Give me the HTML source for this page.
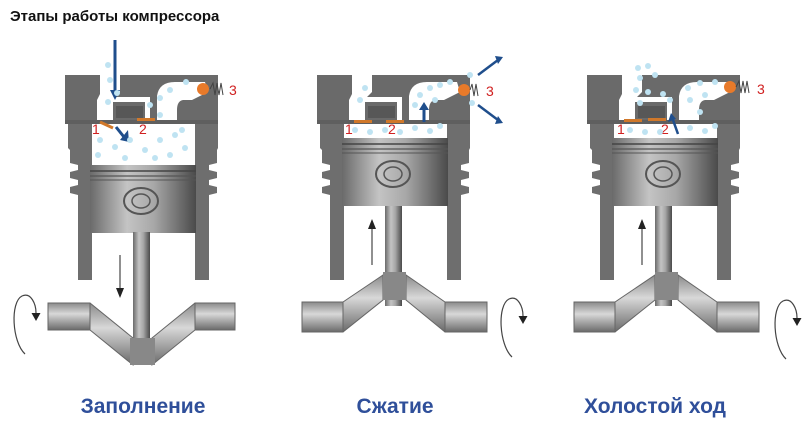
<!DOCTYPE html>
<html><head><meta charset="utf-8"><style>
body{margin:0;background:#fff;}
svg{display:block}
.t{font-family:"Liberation Sans",sans-serif;}
</style></head><body>
<svg width="808" height="423" viewBox="0 0 808 423" xmlns="http://www.w3.org/2000/svg">
<defs>
<linearGradient id="pg" x1="0" x2="1" y1="0" y2="0">
<stop offset="0" stop-color="#6a6a6a"/><stop offset="0.35" stop-color="#c4c4c4"/><stop offset="0.6" stop-color="#a8a8a8"/><stop offset="1" stop-color="#4a4a4a"/></linearGradient>
<linearGradient id="cg" x1="0" x2="0" y1="0" y2="1">
<stop offset="0" stop-color="#8a8a8a"/><stop offset="0.4" stop-color="#d8d8d8"/><stop offset="1" stop-color="#6a6a6a"/></linearGradient>
<g id="cyl">
<path d="M68 123 H92 V280 H78 V195 L70 193 V187 L78 185 V180 L70 178 V172 L78 170 V165 L70 163 V150 L68 148Z" fill="#6e6e6e"/>
<path d="M218 123 H195 V280 H209 V195 L217 193 V187 L209 185 V180 L217 178 V172 L209 170 V165 L217 163 V150 L218 148Z" fill="#6e6e6e"/>
<rect x="65" y="75" width="153" height="48" fill="#6a6a6a"/>
<path d="M100 75 H120 V92 L113 99 V123 H97 V100 L100 94Z" fill="#fff"/>
<path d="M113 97 H150 V123 H145 V102 H113Z" fill="#fff"/>
<rect x="116" y="106" width="27" height="12" fill="#575757"/>
<path d="M157 123 V96 Q159 82 175 82 H205 L208 92 L192 100 H183 Q177 101 177 110 V123Z" fill="#fff"/>
<rect x="65" y="120" width="153" height="4" fill="#5f5f5f"/>
</g>
<g id="pis">
<rect x="90" y="0" width="106" height="68" fill="url(#pg)"/>
<line x1="90" y1="6" x2="196" y2="6" stroke="#444" stroke-width="1.5"/>
<line x1="90" y1="11" x2="196" y2="11" stroke="#555" stroke-width="1.2"/>
<line x1="90" y1="15" x2="196" y2="15" stroke="#555" stroke-width="1"/>
<ellipse cx="141" cy="36" rx="17" ry="13" fill="none" stroke="#555" stroke-width="2"/>
<ellipse cx="141" cy="36" rx="9" ry="7" fill="none" stroke="#555" stroke-width="1.5"/>
<rect x="133" y="68" width="17" height="100" fill="url(#pg)"/>
</g>
<g id="rot">
<path d="M25 354 C12 342 10 302 22 296 C31 292 36 304 36 313" fill="none" stroke="#444" stroke-width="1.2"/>
<path d="M31.5 313 L40.5 313 L36 321Z" fill="#222"/>
</g>
<g id="crankUp">
<path d="M302 302 H343 L383 275 V300 L343 332 H302Z" fill="url(#cg)" stroke="#666"/>
<path d="M487 302 H445 L406 275 V300 L445 332 H487Z" fill="url(#cg)" stroke="#666"/>
<rect x="302" y="302" width="41" height="30" fill="url(#cg)" stroke="#666"/>
<rect x="445" y="302" width="42" height="30" fill="url(#cg)" stroke="#666"/>
<rect x="383" y="272" width="23" height="28" fill="#888"/>
</g>
</defs>

<text x="10" y="21" class="t" font-size="15" font-weight="bold" fill="#111">Этапы работы компрессора</text>

<!-- Cylinder 1 -->
<use href="#cyl"/>
<rect x="92" y="124" width="103" height="41" fill="#fff"/>
<g transform="translate(0,165)"><use href="#pis"/></g>
<path d="M48 303 H90 L133 338 V365 L90 330 H48Z" fill="url(#cg)" stroke="#666"/>
<path d="M235 303 H195 L152 338 V365 L195 330 H235Z" fill="url(#cg)" stroke="#666"/>
<rect x="48" y="303" width="42" height="27" fill="url(#cg)" stroke="#666"/>
<rect x="195" y="303" width="40" height="27" fill="url(#cg)" stroke="#666"/>
<rect x="133" y="232" width="17" height="106" fill="url(#pg)"/>
<rect x="130" y="338" width="25" height="27" fill="#888"/>
<line x1="120" y1="255" x2="120" y2="290" stroke="#222"/><path d="M116 288 L124 288 L120 298Z" fill="#222"/>
<use href="#rot"/>
<line x1="115" y1="40" x2="115" y2="95" stroke="#1f4e8c" stroke-width="3"/><path d="M110 90 L120 90 L115 100Z" fill="#1f4e8c"/>
<line x1="116" y1="127" x2="124" y2="137" stroke="#1f4e8c" stroke-width="3"/><path d="M120 140 L128 130 L129 142Z" fill="#1f4e8c"/>
<line x1="100" y1="122" x2="113" y2="128" stroke="#d0782a" stroke-width="3"/>
<rect x="137" y="118" width="18" height="3" fill="#d0782a"/>
<circle cx="203" cy="89" r="6" fill="#e87a2a"/>
<path d="M210 89 l3 -6 l2 12 l2 -12 l2 12 l2 -12 l2 12" fill="none" stroke="#444"/>
<text x="229" y="95" class="t" font-size="14" fill="#d02020">3</text>
<text x="92" y="134" class="t" font-size="14" fill="#d02020">1</text>
<text x="139" y="134" class="t" font-size="14" fill="#d02020">2</text>
<g fill="#bfe3f2">
<circle cx="108" cy="65" r="3"/><circle cx="110" cy="80" r="3"/><circle cx="117" cy="93" r="3"/><circle cx="108" cy="102" r="3"/><circle cx="170" cy="90" r="3"/><circle cx="160" cy="98" r="3"/><circle cx="186" cy="82" r="3"/><circle cx="150" cy="105" r="3"/><circle cx="160" cy="115" r="3"/>
<circle cx="100" cy="140" r="3"/><circle cx="115" cy="147" r="3"/><circle cx="130" cy="140" r="3"/><circle cx="145" cy="150" r="3"/><circle cx="160" cy="140" r="3"/><circle cx="175" cy="135" r="3"/><circle cx="185" cy="148" r="3"/><circle cx="170" cy="155" r="3"/><circle cx="98" cy="155" r="3"/><circle cx="125" cy="158" r="3"/><circle cx="155" cy="158" r="3"/><circle cx="182" cy="130" r="3"/>
</g>

<!-- Cylinder 2 -->
<g transform="translate(252,0)">
<use href="#cyl"/>
<rect x="92" y="124" width="103" height="14" fill="#fff"/>
<g transform="translate(0,138)"><use href="#pis"/></g>
</g>
<use href="#crankUp"/>
<line x1="372" y1="225" x2="372" y2="265" stroke="#222"/><path d="M368 229 L376 229 L372 219Z" fill="#222"/>
<g transform="translate(487,3)"><use href="#rot"/></g>
<rect x="354" y="120" width="18" height="3" fill="#d0782a"/><rect x="386" y="120" width="18" height="3" fill="#d0782a"/>
<line x1="424" y1="122" x2="424" y2="108" stroke="#1f4e8c" stroke-width="3"/><path d="M419 110 L429 110 L424 102Z" fill="#1f4e8c"/>
<line x1="478" y1="75" x2="498" y2="60" stroke="#1f4e8c" stroke-width="2.5"/><path d="M495 56 L503 57 L498 64Z" fill="#1f4e8c"/>
<line x1="478" y1="105" x2="498" y2="120" stroke="#1f4e8c" stroke-width="2.5"/><path d="M495 124 L503 123 L498 116Z" fill="#1f4e8c"/>
<circle cx="464" cy="90" r="6" fill="#e87a2a"/>
<path d="M470 90 l2 -6 l2 12 l2 -12 l2 12" fill="none" stroke="#444"/>
<text x="486" y="96" class="t" font-size="14" fill="#d02020">3</text>
<text x="345" y="134" class="t" font-size="14" fill="#d02020">1</text>
<text x="388" y="134" class="t" font-size="14" fill="#d02020">2</text>
<g fill="#bfe3f2">
<circle cx="365" cy="88" r="3"/><circle cx="360" cy="100" r="3"/><circle cx="420" cy="95" r="3"/><circle cx="430" cy="88" r="3"/><circle cx="440" cy="85" r="3"/><circle cx="450" cy="82" r="3"/><circle cx="415" cy="105" r="3"/><circle cx="435" cy="100" r="3"/><circle cx="470" cy="75" r="3"/><circle cx="472" cy="103" r="3"/>
<circle cx="355" cy="130" r="3"/><circle cx="370" cy="132" r="3"/><circle cx="385" cy="130" r="3"/><circle cx="400" cy="132" r="3"/><circle cx="415" cy="128" r="3"/><circle cx="430" cy="131" r="3"/><circle cx="440" cy="126" r="3"/>
</g>

<!-- Cylinder 3 -->
<g transform="translate(522,0)">
<use href="#cyl"/>
<rect x="92" y="124" width="103" height="14" fill="#fff"/>
<g transform="translate(0,138)"><use href="#pis"/></g>
</g>
<g transform="translate(272,0)"><use href="#crankUp"/></g>
<line x1="642" y1="225" x2="642" y2="265" stroke="#222"/><path d="M638 229 L646 229 L642 219Z" fill="#222"/>
<g transform="translate(761,5)"><use href="#rot"/></g>
<rect x="624" y="119" width="18" height="3" fill="#d0782a"/><rect x="648" y="118" width="18" height="3" fill="#d0782a"/>
<line x1="678" y1="134" x2="673" y2="120" stroke="#1f4e8c" stroke-width="2.5"/><path d="M668 122 L676 119 L671 113Z" fill="#1f4e8c"/>
<circle cx="730" cy="87" r="6" fill="#e87a2a"/>
<path d="M736 87 l3 -6 l2 12 l2 -12 l2 12 l2 -12 l2 12" fill="none" stroke="#444"/>
<text x="757" y="94" class="t" font-size="14" fill="#d02020">3</text>
<text x="617" y="134" class="t" font-size="14" fill="#d02020">1</text>
<text x="661" y="134" class="t" font-size="14" fill="#d02020">2</text>
<g fill="#bfe3f2">
<circle cx="638" cy="68" r="3"/><circle cx="648" cy="66" r="3"/><circle cx="640" cy="78" r="3"/><circle cx="655" cy="75" r="3"/><circle cx="636" cy="90" r="3"/><circle cx="648" cy="92" r="3"/><circle cx="640" cy="103" r="3"/><circle cx="663" cy="94" r="3"/><circle cx="670" cy="100" r="3"/><circle cx="688" cy="88" r="3"/><circle cx="700" cy="83" r="3"/><circle cx="715" cy="82" r="3"/><circle cx="690" cy="100" r="3"/><circle cx="705" cy="95" r="3"/><circle cx="700" cy="112" r="3"/>
<circle cx="630" cy="130" r="3"/><circle cx="645" cy="132" r="3"/><circle cx="660" cy="132" r="3"/><circle cx="690" cy="128" r="3"/><circle cx="705" cy="131" r="3"/><circle cx="715" cy="126" r="3"/>
</g>

<text x="143" y="413" text-anchor="middle" class="t" font-size="21" font-weight="bold" fill="#2f4f9a">Заполнение</text>
<text x="395" y="413" text-anchor="middle" class="t" font-size="21" font-weight="bold" fill="#2f4f9a">Сжатие</text>
<text x="655" y="413" text-anchor="middle" class="t" font-size="21" font-weight="bold" fill="#2f4f9a">Холостой ход</text>
</svg>
</body></html>
